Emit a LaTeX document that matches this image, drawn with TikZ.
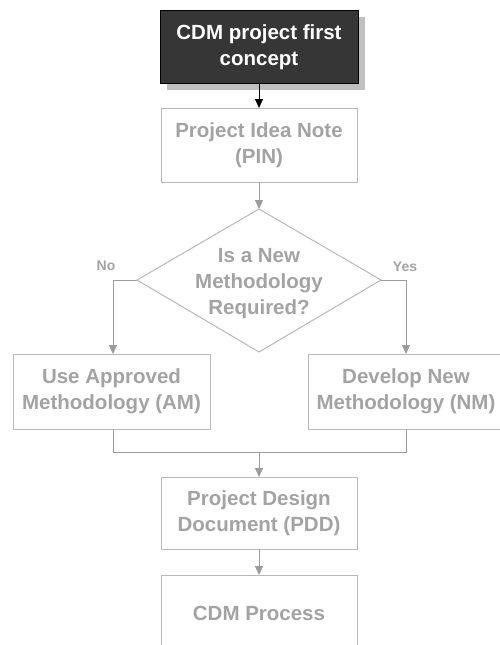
\documentclass[tikz,border=0pt]{standalone}
\usepackage{fontspec}
\setmainfont{Liberation Sans}
\usetikzlibrary{arrows.meta}
\definecolor{txtgray}{HTML}{A3A3A3}
\definecolor{boxgray}{HTML}{B8B8B8}
\definecolor{linegray}{HTML}{9C9C9C}
\definecolor{darkfill}{HTML}{363636}
\definecolor{shadowgray}{HTML}{C0C0C0}
\tikzset{
  procbox/.style={draw=boxgray, line width=1pt, fill=white},
  boxtext/.style={text=txtgray, font=\fontsize{20.5}{26}\selectfont\bfseries, align=center, inner sep=0pt},
  lbl/.style={text=txtgray, font=\fontsize{14}{16}\selectfont\bfseries, inner sep=0pt},
  conn/.style={draw=linegray, line width=1pt},
  arr/.style={conn, -{Triangle[width=8pt,length=9pt]}, shorten >=0pt},
}
\begin{document}
\begin{tikzpicture}[x=1pt, y=-1pt]
\useasboundingbox (0,0) rectangle (499,645);
% top box with shadow
\fill[shadowgray] (167,17) rectangle (365,90);
\draw[fill=darkfill, draw=black, line width=1pt] (160,10) rectangle (358,83);
\node[boxtext, text=white] (top) at (259,47.5) {CDM project first\\concept};
\coordinate (topB) at (259,83);
% PIN
\draw[procbox] (161,108) rectangle (357,182);
\node[boxtext] (pin) at (259,145) {Project Idea Note\\(PIN)};
\coordinate (pinT) at (259,108);
\coordinate (pinB) at (259,182);
% diamond
\coordinate (dT) at (259,209);
\coordinate (dR) at (381,280);
\coordinate (dB) at (259,352);
\coordinate (dL) at (137,280);
\draw[boxgray, line width=1pt, fill=white] (dT) -- (dR) -- (dB) -- (dL) -- cycle;
\node[boxtext] (dq) at (259,284) {Is a New\\Methodology\\Required?};
% AM / NM
\draw[procbox] (13,354) rectangle (210,429);
\node[boxtext] (am) at (111.5,391.5) {Use Approved\\Methodology (AM)};
\draw[procbox] (308,354) rectangle (504,429);
\node[boxtext] (nm) at (406,391.5) {Develop New\\Methodology (NM)};
\coordinate (amT) at (113,354);
\coordinate (amB) at (113,429);
\coordinate (nmT) at (406,354);
\coordinate (nmB) at (406,429);
\coordinate (mL) at (113,452);
\coordinate (mR) at (406,452);
\coordinate (mC) at (259,452);
% PDD
\draw[procbox] (161,477) rectangle (357,549);
\node[boxtext] (pdd) at (259,513) {Project Design\\Document (PDD)};
\coordinate (pddT) at (259,477);
\coordinate (pddB) at (259,549);
% CDM Process
\draw[procbox] (161,575) rectangle (357,652);
\node[boxtext] (cdm) at (259,613) {CDM Process};
\coordinate (cdmT) at (259,575);
% labels
\node[lbl] (no) at (106,266) {No};
\node[lbl] (yes) at (405,267) {Yes};
% connectors
\draw[line width=1pt, -{Triangle[width=8pt,length=9pt]}] (topB) -- (pinT);
\draw[arr] (pinB) -- (dT);
\draw[arr] (dL) -| (amT);
\draw[arr] (dR) -| (nmT);
\draw[conn] (amB) -- (mL) -- (mR) -- (nmB);
\draw[arr] (mC) -- (pddT);
\draw[arr] (pddB) -- (cdmT);
\end{tikzpicture}
\end{document}
